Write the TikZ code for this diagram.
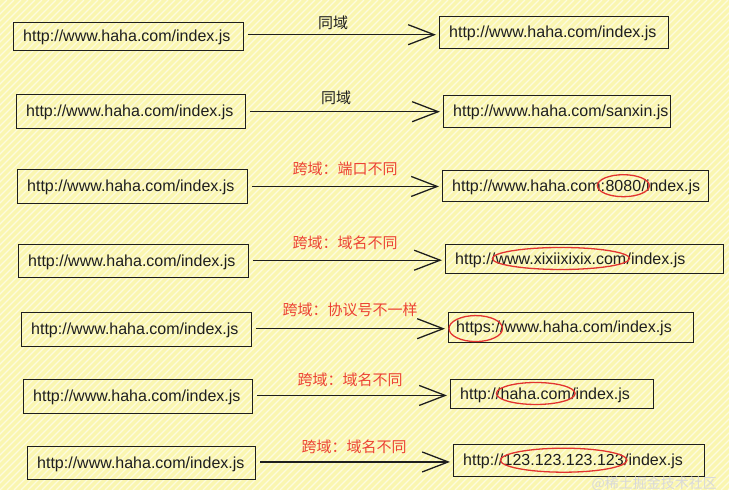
\documentclass[tikz,border=0pt]{standalone}
\usepackage{fontspec}
\setmainfont{Liberation Sans}
\newfontfamily\cjk{Noto Sans CJK SC}
\usetikzlibrary{arrows.meta,calc}
\definecolor{bgyellow}{RGB}{250,246,176}
\definecolor{hlred}{RGB}{226,52,48}
\definecolor{labred}{RGB}{236,66,52}
\definecolor{ink}{RGB}{30,30,30}
\begin{document}
\begin{tikzpicture}[x=1pt,y=-1pt,
 urlbox/.style={draw=ink, line width=1.4pt, anchor=north west, inner sep=0pt},
 url/.style={inner sep=0pt, anchor=base west, font=\fontsize{16}{18}\selectfont, text=ink},
 lab/.style={font=\cjk\fontsize{15}{17}\selectfont, text=ink},
 redlab/.style={lab, text=labred},
 arr/.style={draw=ink, line width=1.3pt, -{Straight Barb[length=26pt,width=20pt,line width=1.3pt]}},
 hl/.style={draw=hlred, line width=1.3pt}]
% background
\fill[bgyellow] (0,0) rectangle (729,490);
\begin{scope}
\clip (0,0) rectangle (729,490);
\foreach \i in {-490,-483,...,735} \draw[white, opacity=0.6, line width=1.3pt] (\i,490) -- (\i+490,0);
\end{scope}
\useasboundingbox (0,0) rectangle (729,490);

% left boxes
\node[urlbox, minimum width=230pt, minimum height=28pt] (L1) at (13,22) {};
\node[urlbox, minimum width=229pt, minimum height=34pt] (L2) at (16,94) {};
\node[urlbox, minimum width=230pt, minimum height=34pt] (L3) at (17,169) {};
\node[urlbox, minimum width=230pt, minimum height=33pt] (L4) at (18,244) {};
\node[urlbox, minimum width=230pt, minimum height=34pt] (L5) at (21,312) {};
\node[urlbox, minimum width=229pt, minimum height=34pt] (L6) at (23,379) {};
\node[urlbox, minimum width=228pt, minimum height=33pt] (L7) at (27,446) {};
\foreach \n in {L1,L2,L3,L4,L5,L6,L7}
  \node[url] (\n t) at ([xshift=10pt,yshift=-5pt]\n.west) {http://www.haha.com/index.js};

% right boxes
\node[urlbox, minimum width=229pt, minimum height=32pt] (R1) at (439,16) {};
\node[urlbox, minimum width=227pt, minimum height=32pt] (R2) at (443,95) {};
\node[urlbox, minimum width=266pt, minimum height=31pt] (R3) at (442,170) {};
\node[urlbox, minimum width=278pt, minimum height=29pt] (R4) at (445,244) {};
\node[urlbox, minimum width=245pt, minimum height=30pt] (R5) at (448,312) {};
\node[urlbox, minimum width=203pt, minimum height=29pt] (R6) at (450,379) {};
\node[urlbox, minimum width=251pt, minimum height=32pt] (R7) at (453,444) {};

\node[url] (R1t) at ([xshift=10pt,yshift=-5pt]R1.west) {http://www.haha.com/index.js};
\node[url] (R2t) at ([xshift=10pt,yshift=-5pt]R2.west) {http://www.haha.com/sanxin.js};

\node[url] (r3a) at ([xshift=10pt,yshift=-5pt]R3.west) {http://www.haha.com:};
\node[url] (r3b) at (r3a.base east) {8080};
\node[url] (r3c) at (r3b.base east) {/index.js};

\node[url] (r4a) at ([xshift=10pt,yshift=-5pt]R4.west) {http://};
\node[url] (r4b) at (r4a.base east) {www.xixiixixix.com};
\node[url] (r4c) at (r4b.base east) {/index.js};

\node[url] (r5a) at ([xshift=8pt,yshift=-5pt]R5.west) {https:};
\node[url] (r5b) at (r5a.base east) {//www.haha.com/index.js};

\node[url] (r6a) at ([xshift=10pt,yshift=-5pt]R6.west) {http://};
\node[url] (r6b) at (r6a.base east) {haha.com};
\node[url] (r6c) at (r6b.base east) {/index.js};

\node[url] (r7a) at ([xshift=10pt,yshift=-5pt]R7.west) {http://};
\node[url] (r7b) at (r7a.base east) {123.123.123.123};
\node[url] (r7c) at (r7b.base east) {/index.js};

% red highlights
\draw[hl] let \p1=($(r3b.east)-(r3b.west)$) in (r3b.center) ellipse [x radius={0.5*\x1+8pt}, y radius=11pt];
\draw[hl] let \p1=($(r4b.east)-(r4b.west)$) in (r4b.center) ellipse [x radius={0.5*\x1+3pt}, y radius=11pt];
\draw[hl] let \p1=($(r5a.east)-(r5a.west)$) in (r5a.center) ellipse [x radius={0.5*\x1+7pt}, y radius=13pt];
\draw[hl] let \p1=($(r6b.east)-(r6b.west)$) in (r6b.center) ellipse [x radius={0.5*\x1+4pt}, y radius=11pt];
\draw[hl] let \p1=($(r7b.east)-(r7b.west)$) in (r7b.center) ellipse [x radius={0.5*\x1+3pt}, y radius=12pt];

% arrows (horizontal, at mid height between the two boxes)
\foreach \k in {1,...,7}{
  \coordinate (M\k) at ($(L\k.east)!0.5!(R\k.west)$);
  \draw[arr] ([xshift=4pt]L\k.east |- M\k) -- ([xshift=-3pt]R\k.west |- M\k);
}

% labels
\node[lab] (a1) at (333,23) {同域};
\node[lab] (a2) at (336,98) {同域};
\node[redlab] (a3) at (345,169) {跨域：端口不同};
\node[redlab] (a4) at (345,243) {跨域：域名不同};
\node[redlab] (a5) at (350,310) {跨域：协议号不一样};
\node[redlab] (a6) at (350,380) {跨域：域名不同};
\node[redlab] (a7) at (354,447) {跨域：域名不同};

% watermark
\node[font=\cjk\fontsize{14}{16}\selectfont, text=white!70!gray, anchor=west] (wm) at (588,484) {@稀土掘金技术社区};
\end{tikzpicture}
\end{document}
